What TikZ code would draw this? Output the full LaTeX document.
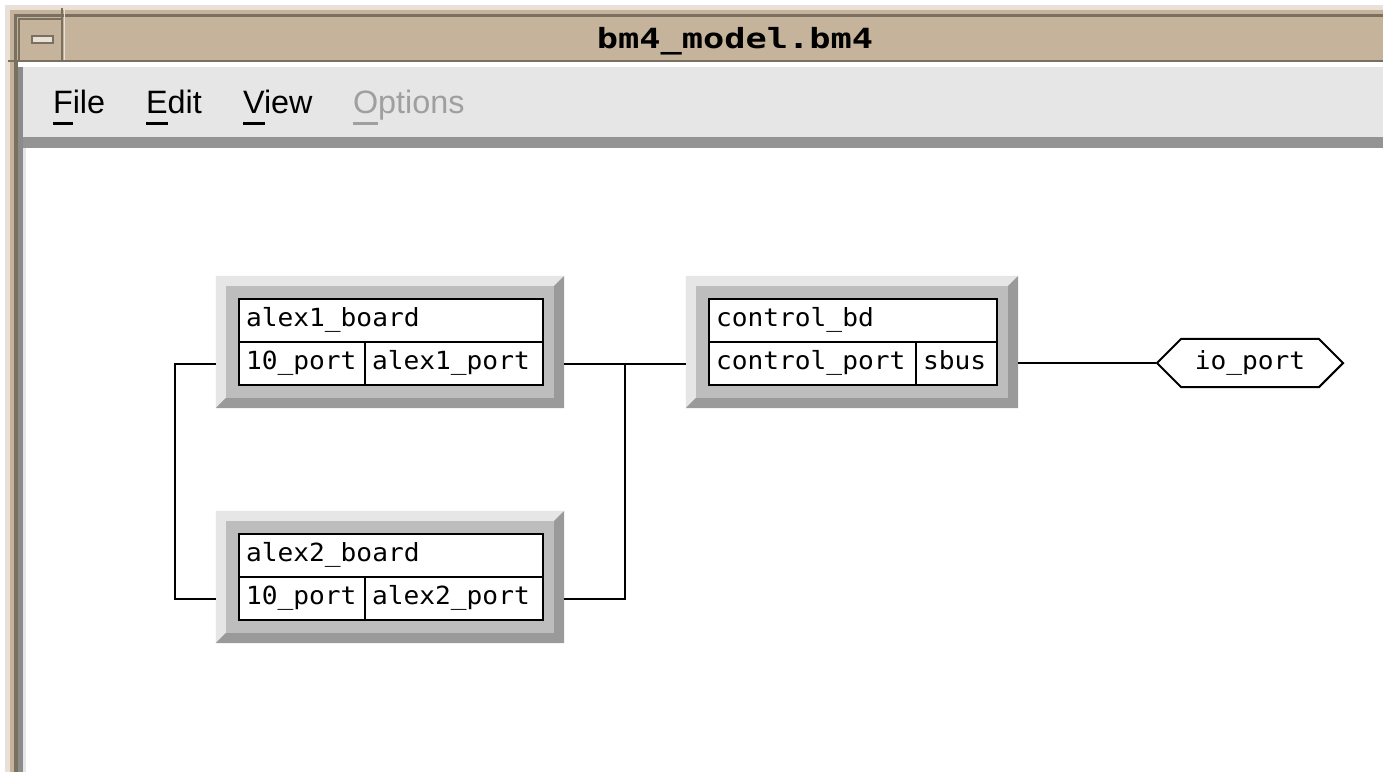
\documentclass[tikz,border=0pt]{standalone}
\usepackage{fontspec}
\usetikzlibrary{shapes.symbols}

\newfontfamily\cellfont{DejaVu Sans Mono}[FakeStretch=1.05]
\newfontfamily\titlefont{DejaVu Sans Mono}[FakeStretch=1.27]
\newfontfamily\menufont{Liberation Sans}

\definecolor{tan}{HTML}{C6B39B}
\definecolor{tanlight}{HTML}{E9E1D7}
\definecolor{tandark}{HTML}{7A705F}
\definecolor{framegrey}{HTML}{8C8C8C}
\definecolor{menugrey}{HTML}{E6E6E6}
\definecolor{bandgrey}{HTML}{949494}
\definecolor{bevlight}{HTML}{E6E6E6}
\definecolor{bevmid}{HTML}{BDBDBD}
\definecolor{bevdark}{HTML}{9A9A9A}

\newlength{\mnwidth}
\newcommand{\mn}[1]{\settowidth{\mnwidth}{#1}\rlap{\rule[-0.12cm]{\mnwidth}{0.027cm}}#1}

\begin{document}
\begin{tikzpicture}[x = 0.01cm, y = -0.01cm, line width = 0.02cm,
                    board/.style = {rectangle, fill = bevmid, inner sep = 0, minimum height = 1.30cm},
                    cell/.style = {draw, fill = white, anchor = north west, inner xsep = 0.07cm, inner ysep = 0,
                                   align = left, minimum height = 0.43cm, font = \cellfont\fontsize{7.1}{8.5}\selectfont,
                                   execute at begin node = \strut},
                    ioport/.style = {signal, draw, fill = white, signal to = west and east, signal pointer angle = 90,
                                     minimum height = 0.41cm, minimum width = 1.86cm, inner xsep = 0,
                                     font = \cellfont\fontsize{7.1}{8.5}\selectfont},
                    menu/.style = {anchor = base west, inner sep = 0, font = \menufont\fontsize{9.2}{11}\selectfont}]
    \useasboundingbox (0, 0) rectangle (1383, 772);
    \fill[white] (0, 0) rectangle (1383, 772);

    % window frame and title bar
    \fill[tanlight] (5, 5) rectangle (1383, 772);
    \fill[tan] (10, 10) rectangle (1383, 772);
    \fill[tandark] (14, 14) rectangle (1383, 772);
    \fill[tan] (17, 17) rectangle (1383, 60);
    \fill[tandark] (8, 60) rectangle (1383, 62);
    \fill[white] (18, 62) rectangle (1383, 772);
    \fill[framegrey] (18, 67) rectangle (23, 772);
    \fill[menugrey] (23, 67) rectangle (1383, 137);
    \fill[bandgrey] (23, 137) rectangle (1383, 148);
    \fill[menugrey] (23, 148) rectangle (26, 772);
    \draw[tandark, line width = 0.015cm] (19, 60) -- (19, 19) -- (62, 19);
    \draw[tandark, line width = 0.015cm] (62, 8) -- (62, 60);
    \draw[tanlight, line width = 0.015cm] (64.5, 8) -- (64.5, 60);
    \filldraw[fill = tanlight, draw = tandark, line width = 0.015cm] (32, 36) rectangle (53, 43);
    \node[anchor = base, inner sep = 0, font = \titlefont\bfseries\fontsize{7.9}{9}\selectfont] (title) at (735, 48) {bm4\_model.bm4};

    % menu
    \node[menu] (mfile) at (52, 113) {\mn{F}ile};
    \node[menu] (medit) at (145, 113) {\mn{E}dit};
    \node[menu] (mview) at (242, 113) {\mn{V}iew};
    \node[menu, text = gray!75] (mopt) at (352, 113) {\mn{O}ptions};

    % boards
    \node [board, minimum width = 3.46cm] (a1) at (390, 342){};
    \node [board, minimum width = 3.46cm] (a2) at (390, 577){};
    \node [board, minimum width = 3.30cm] (cb) at (852, 342){};

    \fill[bevlight] (a1.north west) -- (a1.north east) -- ([shift={(-10,10)}]a1.north east) -- ([shift={(10,10)}]a1.north west) -- ([shift={(10,-10)}]a1.south west) -- (a1.south west) -- cycle;
    \fill[bevdark] (a1.south east) -- (a1.south west) -- ([shift={(10,-10)}]a1.south west) -- ([shift={(-10,-10)}]a1.south east) -- ([shift={(-10,10)}]a1.north east) -- (a1.north east) -- cycle;
    \fill[bevlight] (a2.north west) -- (a2.north east) -- ([shift={(-10,10)}]a2.north east) -- ([shift={(10,10)}]a2.north west) -- ([shift={(10,-10)}]a2.south west) -- (a2.south west) -- cycle;
    \fill[bevdark] (a2.south east) -- (a2.south west) -- ([shift={(10,-10)}]a2.south west) -- ([shift={(-10,-10)}]a2.south east) -- ([shift={(-10,10)}]a2.north east) -- (a2.north east) -- cycle;
    \fill[bevlight] (cb.north west) -- (cb.north east) -- ([shift={(-10,10)}]cb.north east) -- ([shift={(10,10)}]cb.north west) -- ([shift={(10,-10)}]cb.south west) -- (cb.south west) -- cycle;
    \fill[bevdark] (cb.south east) -- (cb.south west) -- ([shift={(10,-10)}]cb.south west) -- ([shift={(-10,-10)}]cb.south east) -- ([shift={(-10,10)}]cb.north east) -- (cb.north east) -- cycle;

    \node [cell, text width = 2.90cm] (a1name) at (238, 298) {alex1\_board};
    \node [cell, text width = 1.12cm] (a1lo) at (238, 341) {10\_port};
    \node [cell, text width = 1.64cm] (a1p) at (364, 341) {alex1\_port};

    \node [cell, text width = 2.90cm] (a2name) at (238, 533) {alex2\_board};
    \node [cell, text width = 1.12cm] (a2lo) at (238, 576) {10\_port};
    \node [cell, text width = 1.64cm] (a2p) at (364, 576) {alex2\_port};

    \node [cell, text width = 2.74cm] (cbname) at (708, 298) {control\_bd};
    \node [cell, text width = 1.93cm] (cbcp) at (708, 341) {control\_port};
    \node [cell, text width = 0.67cm] (cbsb) at (915, 341) {sbus};

    \node [ioport] (io) at (1250, 363){io\_port};

    % wires
    \coordinate (lbus) at (175, 480);
    \coordinate (rbus) at (625, 480);
    \draw (a1.west |- a1lo) -| (lbus) |- (a2.west |- a2lo);
    \draw (a1.east |- a1p) -- (cb.west |- cbcp);
    \draw (a2.east |- a2p) -| (rbus) |- (a1.east |- a1p);
    \draw (cb.east |- io.west) -- (io.west);
\end{tikzpicture}
\end{document}
